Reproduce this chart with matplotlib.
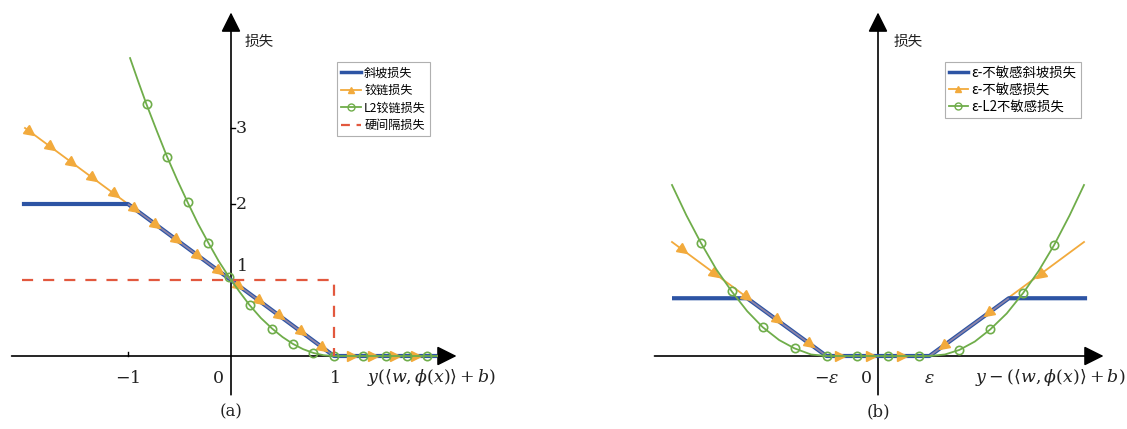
import numpy as np
import matplotlib
matplotlib.use('Agg')
import matplotlib.pyplot as plt
from matplotlib.markers import MarkerStyle
from matplotlib.transforms import Affine2D
from matplotlib.lines import Line2D

plt.rcParams['font.family'] = ['Noto Sans CJK SC', 'DejaVu Sans']
plt.rcParams['mathtext.fontset'] = 'dejavuserif'

# ---------------- Panel (a) data ----------------
ramp_a_x = [-2.03, -1.0, 1.0, 2.0]
ramp_a_y = [2.0, 2.0, 0.0, 0.0]

hinge_a_x = [-2.0, -1.95, -1.75, -1.54, -1.34, -1.13, -0.93, -0.73, -0.52, -0.32, -0.12,
             0.08, 0.28, 0.48, 0.69, 0.89, 1.0, 1.17, 1.38, 1.59, 1.80, 2.0]
hinge_a_y = [3.0, 2.95, 2.75, 2.54, 2.34, 2.13, 1.93, 1.73, 1.52, 1.32, 1.12,
             0.92, 0.72, 0.52, 0.31, 0.11, 0.0, 0.0, 0.0, 0.0, 0.0, 0.0]
hinge_a_mark = [0, 1, 1, 1, 1, 1, 1, 1, 1, 1, 1, 1, 1, 1, 1, 1, 0, 1, 1, 1, 1, 0]

l2_a_x = [-0.98, -0.9, -0.82, -0.72, -0.62, -0.52, -0.42, -0.32, -0.22, -0.12, -0.02,
          0.08, 0.18, 0.29, 0.4, 0.5, 0.6, 0.7, 0.8, 0.9, 1.0, 1.28, 1.5, 1.71, 1.9, 2.0]
l2_a_y = [3.92, 3.61, 3.31, 2.96, 2.62, 2.31, 2.02, 1.74, 1.49, 1.25, 1.04,
          0.85, 0.67, 0.50, 0.36, 0.25, 0.16, 0.09, 0.04, 0.01, 0.0, 0.0, 0.0, 0.0, 0.0, 0.0]
l2_a_mark = [0, 0, 1, 0, 1, 0, 1, 0, 1, 0, 1, 0, 1, 0, 1, 0, 1, 0, 1, 0, 1, 1, 1, 1, 1, 0]

hard_a_x = [-2.03, 1.0, 1.0]
hard_a_y = [1.0, 1.0, 0.0]

labels_a = ['斜坡损失', '铰链损失', 'L2铰链损失', '硬间隔损失']
xticks_a = [-1, 0, 1]
xtick_labels_a = ['$-1$', '$0$', '$1$']
yticks_a = [1, 2, 3]
ytick_labels_a = ['$1$', '$2$', '$3$']

# ---------------- Panel (b) data ----------------
eps = 0.5
ramp_b_x = [-2.0, -1.27, -0.5, 0.5, 1.27, 2.03]
ramp_b_y = [0.76, 0.76, 0.0, 0.0, 0.76, 0.76]

hinge_b_x = [-2.0, -1.89, -1.58, -1.27, -0.97, -0.66, -0.5, -0.37, -0.07, 0.23, 0.5,
             0.63, 1.07, 1.57, 2.0]
hinge_b_y = [1.5, 1.39, 1.08, 0.77, 0.47, 0.16, 0.0, 0.0, 0.0, 0.0, 0.0,
             0.13, 0.57, 1.07, 1.5]
hinge_b_mark = [0, 1, 1, 1, 1, 1, 0, 1, 1, 1, 0, 1, 1, 1, 0]

l2_b_x = [-2.0, -1.86, -1.72, -1.57, -1.42, -1.27, -1.12, -0.96, -0.81, -0.65, -0.5,
          -0.2, 0.1, 0.4, 0.5, 0.65, 0.79, 0.94, 1.09, 1.25, 1.41, 1.56, 1.71, 1.86, 2.0]
l2_b_y = [2.25, 1.85, 1.49, 1.14, 0.85, 0.59, 0.38, 0.21, 0.10, 0.02, 0.0,
          0.0, 0.0, 0.0, 0.0, 0.02, 0.08, 0.19, 0.35, 0.56, 0.83, 1.12, 1.46, 1.85, 2.25]
l2_b_mark = [0, 0, 1, 0, 1, 0, 1, 0, 1, 0, 1, 1, 1, 1, 0, 0, 1, 0, 1, 0, 1, 0, 1, 0, 0]

labels_b = ['ε-不敏感斜坡损失', 'ε-不敏感损失', 'ε-L2不敏感损失']
xticks_b = [-eps, 0, eps]
xtick_labels_b = [r'$-\varepsilon$', '$0$', r'$\varepsilon$']

# ---------------- style ----------------
C_BLUE = '#2d54a4'
C_ORANGE = '#f2aa3c'
C_GREEN = '#6fad4a'
C_RED = '#e2583e'
C_MID = '#8d84a8'

W, H, DPI = 1127, 429, 100
XU, YU = 103.0, 76.0   # pixels per data unit
ORIG_Y = 356           # pixel row of the x-axis

fig = plt.figure(figsize=(W / DPI, H / DPI), dpi=DPI)


def make_ax(left_px, right_px, orig_x):
    ax = fig.add_axes([left_px / W, 0, (right_px - left_px) / W, 1])
    ax.set_xlim((left_px - orig_x) / XU, (right_px - orig_x) / XU)
    ax.set_ylim(-(H - ORIG_Y) / YU, ORIG_Y / YU)
    ax.axis('off')
    return ax


def tri(angle):
    return MarkerStyle('^', transform=Affine2D().rotate_deg(angle))


def draw_axes(ax, x0, x1, y0, y1):
    ap = dict(arrowstyle='-|>,head_length=0.6,head_width=0.3', mutation_scale=20,
              lw=1.2, color='k', shrinkA=0, shrinkB=0)
    ax.annotate('', xy=(x1, 0), xytext=(x0, 0), arrowprops=ap, zorder=1)
    ax.annotate('', xy=(0, y1), xytext=(0, y0), arrowprops=ap, zorder=1)


def draw_ramp(ax, xs, ys):
    ax.plot(xs, ys, color=C_BLUE, lw=3.0, solid_capstyle='butt', zorder=3)
    xs = np.asarray(xs, float); ys = np.asarray(ys, float)
    for i in range(len(xs) - 1):
        if ys[i] != ys[i + 1]:
            ax.plot(xs[i:i + 2], ys[i:i + 2], color=C_MID, lw=1.3,
                    solid_capstyle='butt', zorder=4)


def draw_hinge(ax, xs, ys, mark, angle_fn):
    ax.plot(xs, ys, color=C_ORANGE, lw=1.3, zorder=2.5)
    for x, y, m in zip(xs, ys, mark):
        if m:
            ax.plot([x], [y], linestyle='none', marker=tri(angle_fn(x, y)),
                    ms=7, color=C_ORANGE, mec=C_ORANGE, zorder=5)


def draw_l2(ax, xs, ys, mark):
    idx = [i for i, m in enumerate(mark) if m]
    ax.plot(xs, ys, color=C_GREEN, lw=1.3, marker='o', ms=6, mfc='none',
            mec=C_GREEN, mew=1.2, markevery=idx, zorder=5)


serif_kw = dict(fontsize=12.5, color='#222222', ha='center', va='center')

# ---------------- Panel (a) ----------------
axa = make_ax(0, 560, 231)
draw_axes(axa, -2.13, 2.19, -0.51, 4.52)
draw_ramp(axa, ramp_a_x, ramp_a_y)
draw_hinge(axa, hinge_a_x, hinge_a_y, hinge_a_mark,
           lambda x, y: -126 if y > 0 else -90)
draw_l2(axa, l2_a_x, l2_a_y, l2_a_mark)
axa.plot(hard_a_x, hard_a_y, color=C_RED, lw=1.6, dashes=(5, 4.5), zorder=6)

for v, s in zip(xticks_a, xtick_labels_a):
    dx = -13 / XU if v == 0 else 0
    axa.text(v + dx, -22 / YU, s, **serif_kw)
axa.plot([-1, -1], [0, 4 / YU], color='k', lw=1.0)
for v, s in zip(yticks_a, ytick_labels_a):
    dy = 14 / YU if v == 1 else 0
    axa.text(10 / XU, v + dy, s, **serif_kw)
    if v != 1:
        axa.plot([0, 4 / XU], [v, v], color='k', lw=1.0)
axa.text(136 / XU, -22 / YU, r'$y(\langle w,\phi(x)\rangle+b)$', fontsize=12.5,
         color='#222222', ha='left', va='center')
axa.text(28 / XU, (ORIG_Y - 42) / YU, '损失', fontsize=10.5, ha='center', va='center',
         color='#222222')
axa.text(0, -(412 - ORIG_Y) / YU, '(a)', fontsize=12, ha='center', va='center',
         family='DejaVu Serif', color='#222222')

handles_a = [Line2D([], [], color=C_BLUE, lw=2.5),
             Line2D([], [], color=C_ORANGE, lw=1.3, marker='^', ms=5),
             Line2D([], [], color=C_GREEN, lw=1.3, marker='o', ms=5, mfc='none'),
             Line2D([], [], color=C_RED, lw=1.6, dashes=(4, 3))]
lega = axa.legend(handles_a, labels_a, loc='upper left',
                  bbox_to_anchor=(337 / W, 1 - 62 / H), bbox_transform=fig.transFigure,
                  fontsize=8.7, frameon=True, fancybox=False, framealpha=1,
                  edgecolor='#b0b0b0', handlelength=1.6, handletextpad=0.3,
                  labelspacing=0.38, borderpad=0.35, borderaxespad=0)
lega.get_frame().set_linewidth(0.8)

# ---------------- Panel (b) ----------------
axb = make_ax(560, 1127, 878)
draw_axes(axb, -2.17, 2.19, -0.51, 4.52)
draw_ramp(axb, ramp_b_x, ramp_b_y)
draw_hinge(axb, hinge_b_x, hinge_b_y, hinge_b_mark,
           lambda x, y: (-126 if x < 0 else 126) if y > 0 else -90)
draw_l2(axb, l2_b_x, l2_b_y, l2_b_mark)

for v, s in zip(xticks_b, xtick_labels_b):
    dx = -12 / XU if v == 0 else 0
    axb.text(v + dx, -22 / YU, s, **serif_kw)
axb.text(97 / XU, -22 / YU, r'$y-(\langle w,\phi(x)\rangle+b)$', fontsize=12.5,
         color='#222222', ha='left', va='center')
axb.text(30 / XU, (ORIG_Y - 42) / YU, '损失', fontsize=10.5, ha='center', va='center',
         color='#222222')
axb.text(0, -(412 - ORIG_Y) / YU, '(b)', fontsize=12, ha='center', va='center',
         family='DejaVu Serif', color='#222222')

handles_b = [Line2D([], [], color=C_BLUE, lw=2.5),
             Line2D([], [], color=C_ORANGE, lw=1.3, marker='^', ms=5),
             Line2D([], [], color=C_GREEN, lw=1.3, marker='o', ms=5, mfc='none')]
legb = axb.legend(handles_b, labels_b, loc='upper left',
                  bbox_to_anchor=(945 / W, 1 - 62 / H), bbox_transform=fig.transFigure,
                  fontsize=9.6, frameon=True, fancybox=False, framealpha=1,
                  edgecolor='#b0b0b0', handlelength=1.4, handletextpad=0.3,
                  labelspacing=0.22, borderpad=0.3, borderaxespad=0)
legb.get_frame().set_linewidth(0.8)

fig.savefig('out.png', dpi=DPI)
